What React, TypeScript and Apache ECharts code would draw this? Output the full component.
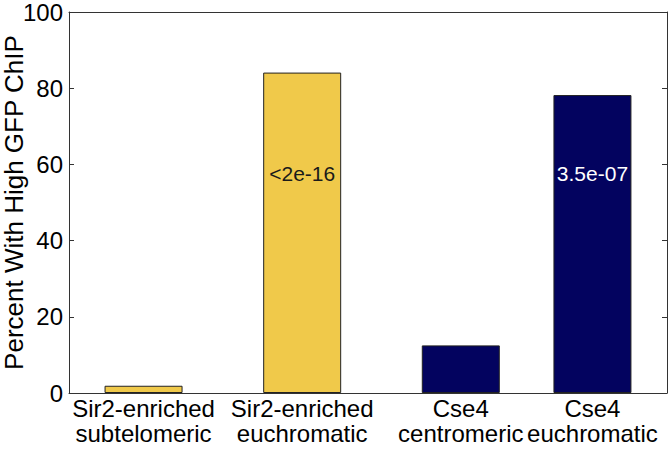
import React, { useEffect, useRef } from "react";
import * as echarts from "echarts";

const categories = [
  "Sir2-enriched\nsubtelomeric",
  "Sir2-enriched\neuchromatic",
  "Cse4\ncentromeric",
  "Cse4\neuchromatic",
];
const positions = [1, 2, 3, 3.83];
const percents = [1.9, 84.1, 12.5, 78.2];
const groupOfBar = ["sir2", "sir2", "cse4", "cse4"];
const pValueTexts = ["<2e-16", "3.5e-07"];
const pValuePositions = [2, 3.83];
const pValueY = [57.5, 57.5];
const yTicks = [0, 20, 40, 60, 80, 100];

const FONT = "Liberation Sans";

export default function App() {
  const ref = useRef<HTMLDivElement>(null);
  useEffect(() => {
    document.body.style.margin = "0";
    const chart = echarts.init(ref.current!, null, { renderer: "svg" });
    const colorOf: Record<string, string> = { sir2: "#F0C94A", cse4: "#03035F" };
    const textColorOf = ["#1a1a1a", "#ffffff"];
    const axisColor = "#333333";
    chart.setOption({
      animation: false,
      backgroundColor: "#ffffff",
      grid: { left: 69, right: 2, top: 12, bottom: 57, containLabel: false, outerBoundsMode: "none" },
      xAxis: [
        {
          type: "value",
          min: 0.53,
          max: 4.3,
          position: "bottom",
          splitLine: { show: false },
          axisLine: { show: true, onZero: false, lineStyle: { color: axisColor, width: 1 } },
          axisTick: { show: false },
          axisLabel: {
            customValues: positions,
            hideOverlap: false,
            formatter: (v: number) => {
              const i = positions.findIndex((p) => Math.abs(p - v) < 1e-6);
              return i >= 0 ? categories[i] : "";
            },
            fontFamily: FONT,
            fontSize: 24,
            color: "#000",
            lineHeight: 25,
            margin: 3,
          },
        },
        {
          type: "value",
          min: 0.53,
          max: 4.3,
          position: "top",
          splitLine: { show: false },
          axisLine: { show: true, onZero: false, lineStyle: { color: axisColor, width: 1 } },
          axisTick: { show: false },
          axisLabel: { show: false },
        },
      ],
      yAxis: [
        {
          type: "value",
          min: 0,
          max: 100,
          interval: 20,
          position: "left",
          name: "Percent With High GFP ChIP",
          nameLocation: "middle",
          nameRotate: 90,
          nameGap: 42,
          nameMoveOverlap: false,
          nameTextStyle: { fontFamily: FONT, fontSize: 26, color: "#000" },
          splitLine: { show: false },
          axisLine: { show: true, lineStyle: { color: axisColor, width: 1 } },
          axisTick: { show: true, inside: true, length: 5, lineStyle: { color: axisColor } },
          axisLabel: {
            fontFamily: FONT,
            fontSize: 24,
            color: "#000",
            margin: 6,
            formatter: (v: number) => (yTicks.includes(v) ? String(v) : ""),
          },
        },
        {
          type: "value",
          min: 0,
          max: 100,
          interval: 20,
          position: "right",
          splitLine: { show: false },
          axisLine: { show: true, lineStyle: { color: axisColor, width: 1 } },
          axisTick: { show: true, inside: true, length: 5, lineStyle: { color: axisColor } },
          axisLabel: { show: false },
        },
      ],
      series: [
        {
          type: "bar",
          xAxisIndex: 0,
          yAxisIndex: 0,
          barWidth: 78,
          data: percents.map((v, i) => ({
            value: [positions[i], v],
            itemStyle: {
              color: colorOf[groupOfBar[i]],
              borderColor: "#222",
              borderWidth: 1,
            },
          })),
        },
        {
          type: "scatter",
          xAxisIndex: 0,
          yAxisIndex: 0,
          symbolSize: 0,
          silent: true,
          data: pValueTexts.map((t, i) => ({
            name: t,
            value: [pValuePositions[i], pValueY[i]],
            label: {
              show: true,
              position: "inside",
              formatter: t,
              fontFamily: FONT,
              fontSize: 21,
              color: textColorOf[i],
              textBorderWidth: 0,
              textBorderColor: "transparent",
              opacity: 1,
            },
          })),
        },
      ],
    });
    return () => chart.dispose();
  }, []);
  return <div ref={ref} style={{ width: 669, height: 450 }} />;
}
